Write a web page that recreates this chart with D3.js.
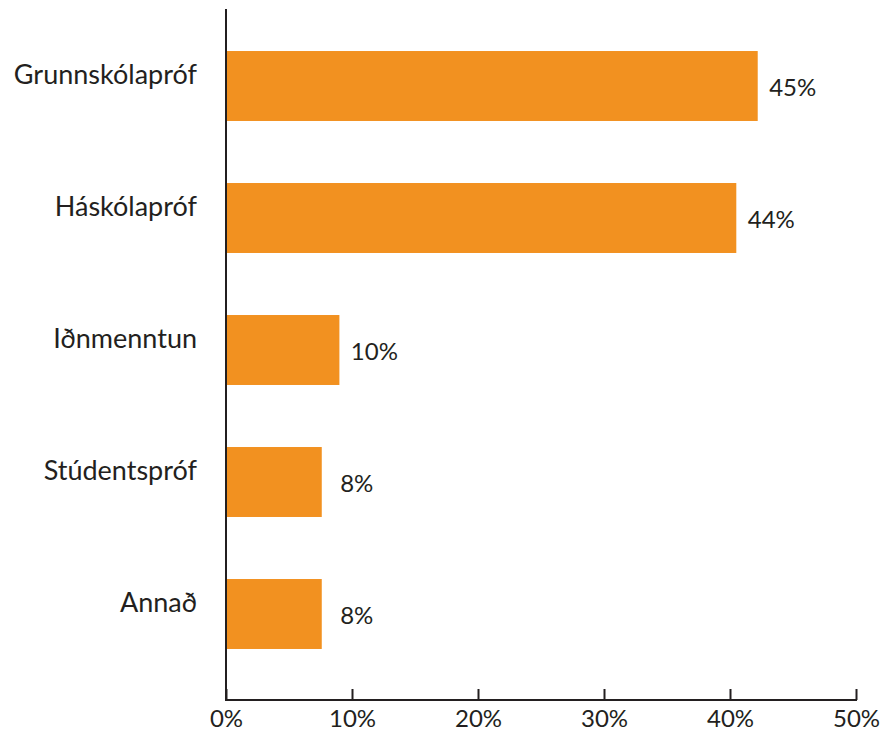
<!DOCTYPE html>
<html>
<head>
<meta charset="utf-8">
<script src="https://cdn.jsdelivr.net/npm/d3@7"></script>
<style>
  html, body { margin: 0; padding: 0; background: #fff; }
  svg { display: block; }
  text { font-family: Lato, "Open Sans", sans-serif; fill: #231f20; }
</style>
</head>
<body>
<svg id="chart" width="883" height="737"></svg>
<script>
const categories = ["Grunnskólapróf", "Háskólapróf", "Iðnmenntun", "Stúdentspróf", "Annað"];
const values = [42.2, 40.5, 9.0, 7.6, 7.6];
const valueLabels = ["45%", "44%", "10%", "8%", "8%"];
const xTicks = [0, 10, 20, 30, 40, 50];

const svg = d3.select("#chart");
const x = d3.scaleLinear().domain([0, 50]).range([226, 856]);
const y = d3.scaleBand().domain(categories).range([20, 680]).paddingInner(0.47).paddingOuter(0.235);

const ink = "#231f20";
const orange = "#f29120";

svg.append("g").selectAll("rect").data(categories).join("rect")
  .attr("x", x(0))
  .attr("y", d => y(d))
  .attr("width", (d, i) => x(values[i]) - x(0))
  .attr("height", y.bandwidth())
  .attr("fill", orange);

// axes
const xAxis = d3.axisBottom(x).tickValues(xTicks).tickSize(-11).tickFormat(d => d + "%").tickPadding(22);
const gx = svg.append("g").attr("transform", "translate(0,700)").call(xAxis);
gx.select(".domain").remove();
gx.selectAll(".tick line").attr("stroke", ink).attr("stroke-width", 2);
gx.selectAll(".tick text").attr("font-size", 24).attr("fill", ink).attr("dy", "0.2em");
gx.append("line").attr("x1", x(0) - 1).attr("x2", x(50) + 1).attr("y1", 0).attr("y2", 0)
  .attr("stroke", ink).attr("stroke-width", 2);

svg.append("line").attr("x1", x(0)).attr("x2", x(0)).attr("y1", 9).attr("y2", 701)
  .attr("stroke", ink).attr("stroke-width", 2);

// category labels
svg.append("g").selectAll("text").data(categories).join("text")
  .attr("x", 197)
  .attr("y", d => y(d) + y.bandwidth() / 2 - 2)
  .attr("text-anchor", "end")
  .attr("font-size", 27)
  .text(d => d);

// value labels
svg.append("g").selectAll("text").data(categories).join("text")
  .attr("x", (d, i) => x(values[i]) + 35)
  .attr("y", d => y(d) + y.bandwidth() / 2 + 10)
  .attr("text-anchor", "middle")
  .attr("font-size", 24)
  .text((d, i) => valueLabels[i]);
</script>
</body>
</html>
